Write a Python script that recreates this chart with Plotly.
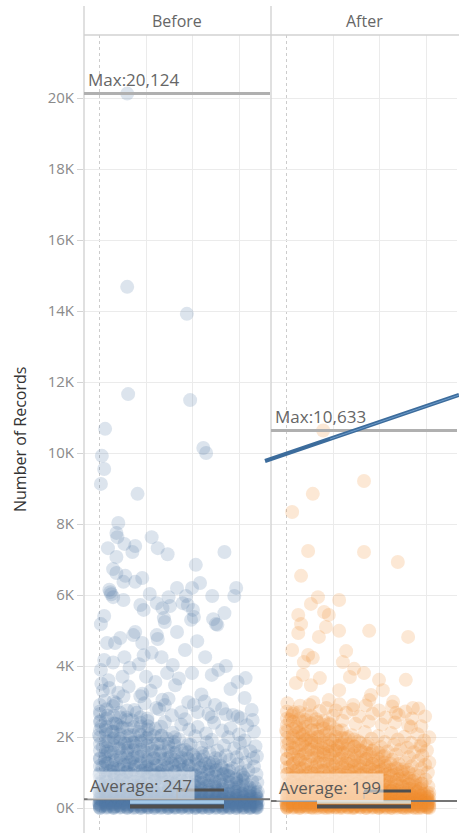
import plotly.graph_objects as go

# ---------------- data ----------------
Y_TICKS = [0, 2000, 4000, 6000, 8000, 10000, 12000, 14000, 16000, 18000, 20000]
Y_TICK_LABELS = ["0K", "2K", "4K", "6K", "8K", "10K", "12K", "14K", "16K", "18K", "20K"]
PANELS = ["Before", "After"]
BEFORE_MAX = 20124
BEFORE_AVG = 247
AFTER_MAX = 10633
AFTER_AVG = 199

# (jitter position, number of records)
before_outliers = [(0.60,20124),(0.60,14680),(1.87,13920),(0.62,11660),(1.94,11490),(0.13,10680),(0.06,9920),
    (2.22,10140),(2.28,10000),(0.11,9550),(0.04,9130),(0.82,8850),(0.41,8030),(0.37,7750),(0.39,7630),(0.54,7440),
    (0.77,7380),(0.19,7320),(0.71,7210),(1.12,7630),(1.25,7320),(1.46,7150),(2.67,7210),(2.06,6850),(0.37,7070),
    (0.30,6730),(0.37,6620),(0.56,6540),(0.52,6370),(0.77,6370),(0.92,6480),(0.24,6080),(0.22,6150),(0.26,6020),
    (0.30,5940),(0.52,5860),(1.08,6030),(1.48,5940),(1.66,6200),(1.85,5970),(1.98,6200),(2.15,6340),(2.41,5970),
    (2.88,5970),(2.92,6200),(0.88,5720),(0.95,5580),(1.23,5770),(1.35,5630),(1.51,5690),(1.78,5770),(1.89,5720),
    (2.00,5580),(2.02,5380),(1.96,5300),(1.38,5350),(2.43,5320),(2.49,5180),(2.67,5490),(0.11,5410),(0.04,5180),
    (0.77,4960),(0.73,4870),(1.23,4870),(1.25,4760),(1.66,4960),(2.09,4700),(0.17,4650),(0.34,4650),(0.45,4790),
    (0.92,4650),(1.40,5240),(2.52,5160),(1.83,4450),(0.54,4250),(0.11,4170),(1.12,4370),(1.33,4250),(2.26,4250),
    (1.57,4030),(0.04,3890),(2.54,3890),(3.12,3660),(2.95,3550),(1.98,3800)]

before_band_a = [(0.05,3500),(0.22,3380),(0.41,3250),(0.63,3420),(0.88,3150),(1.10,3300),(1.35,3050),(1.62,3460),
    (1.90,2980),(2.18,3200),(2.47,2900),(2.80,3350),(3.10,3100),
    (0.12,3020),(0.30,2870),(0.52,3150),(0.75,2760),(0.97,2950),(1.22,2820),(1.48,3080),(1.75,2700),(2.02,2900),
    (2.33,2650),(2.62,2800),(2.95,2580),
    (0.02,2720),(0.18,2600),(0.36,2950),(0.58,2550),(0.80,2680),(1.03,2520),(1.28,2780),(1.55,2610),(1.83,2500),
    (2.10,2700),(2.40,2560),(2.70,2640),(3.02,2530),(3.25,2760),
    (0.08,3300),(0.45,2680),(0.92,3220),(1.40,2900),(2.25,3000),(2.85,2620),
    (0.30,4100),(0.65,3950),(0.85,4050),(1.00,3700),(1.70,3650),(2.40,3750),(0.20,3600),(1.20,3550),(2.70,4000),
    (0.50,3700),(1.45,3800),(0.95,4300),(3.27,2480)]

before_band_b = [(0.03,2450),(0.35,2380),(0.70,2470),(1.05,2300),(1.40,2420),(1.75,2350),(2.10,2280),(2.45,2400),(2.80,2250),(3.15,2330),
    (0.15,2200),(0.50,2260),(0.85,2150),(1.20,2230),(1.57,2120),(1.92,2210),(2.28,2100),(2.62,2180),(2.98,2070),(3.30,2150),
    (0.00,2050),(0.32,1980),(0.66,2060),(1.00,1960),(1.34,2040),(1.70,1940),(2.05,2020),(2.40,1920),(2.75,1990),(3.10,1900),
    (0.20,1880),(0.55,1820),(0.90,1900),(1.25,1800),(1.60,1860),(1.95,1780),(2.30,1850),(2.66,1760),(3.00,1830),(3.33,1740),
    (0.08,1720),(0.42,1680),(0.78,1750),(1.12,1660),(1.48,1720),(1.83,1640),(2.18,1700),(2.52,1620),(2.88,1680),(3.22,1600),
    (0.25,1580),(0.60,1540),(0.95,1600),(1.30,1520),(1.65,1570),(2.00,1500),(2.35,1560),(2.70,1480),(3.05,1540),(3.36,1460),
    (0.12,1450),(0.46,1420),(0.82,1470),(1.16,1400),(1.52,1440),(1.88,1410),(2.22,1460),(2.58,1400),(2.93,1430),(3.28,1400),
    (0.05,2300),(0.28,2150),(0.45,1950),(0.62,1700),(0.18,1600),(0.38,2350),(0.72,1850),(1.08,2080),(1.45,1950),(0.88,2400)]

before_band_c = [(0.02,1380),(0.36,1340),(0.71,1390),(1.04,1320),(1.39,1370),(1.73,1300),(2.08,1360),(2.43,1290),(2.78,1350),(3.12,1280),
    (0.18,1260),(0.53,1220),(0.88,1280),(1.22,1200),(1.56,1250),(1.91,1190),(2.26,1240),(2.60,1180),(2.95,1230),(3.30,1170),
    (0.07,1150),(0.41,1110),(0.76,1160),(1.10,1090),(1.45,1140),(1.80,1080),(2.14,1130),(2.49,1070),(2.84,1120),(3.18,1060),
    (0.24,1040),(0.58,1000),(0.93,1050),(1.27,980),(1.62,1030),(1.97,970),(2.32,1020),(2.66,960),(3.01,1010),(3.35,950),
    (0.01,940),(0.33,900),(0.68,950),(1.02,880),(1.37,930),(1.71,870),(2.06,920),(2.40,860),(2.75,910),(3.09,850),
    (0.15,840),(0.50,800),(0.84,850),(1.19,780),(1.53,830),(1.88,770),(2.23,820),(2.57,760),(2.92,810),(3.26,750),
    (0.05,740),(0.39,700),(0.74,750),(1.08,690),(1.43,730),(1.77,680),(2.12,720),(2.46,670),(2.81,710),(3.15,660),
    (0.21,650),(0.56,610),(0.90,660),(1.25,600),(1.59,640),(1.94,590),(2.29,630),(2.63,580),(2.98,620),(3.32,570),
    (0.10,560),(0.45,530),(0.80,570),(1.14,520),(1.49,550),(1.84,510),(2.18,540),(2.53,505),(2.87,530),(3.21,500),
    (0.28,1200),(0.62,1100),(0.97,980),(1.32,870),(1.66,760),(2.01,650),(2.36,1180),(2.71,1050),(3.06,900),(3.37,720),
    (0.12,1320),(0.30,1010),(0.47,880),(0.65,1290),(0.83,620),(1.00,1150),(1.18,940),(1.35,1060),(1.52,690),(1.70,1240)]

before_band_d = [(0.00,480),(0.29,450),(0.58,470),(0.87,440),(1.16,475),(1.45,445),(1.74,465),(2.03,435),(2.32,470),(2.61,440),(2.90,460),(3.19,430),(3.38,455),
    (0.14,420),(0.43,400),(0.72,425),(1.01,395),(1.30,415),(1.59,390),(1.88,420),(2.17,385),(2.46,410),(2.75,380),(3.04,405),(3.33,375),
    (0.05,370),(0.34,350),(0.63,365),(0.92,340),(1.21,360),(1.50,335),(1.79,355),(2.08,330),(2.37,350),(2.66,325),(2.95,345),(3.24,320),
    (0.19,310),(0.48,295),(0.77,315),(1.06,290),(1.35,305),(1.64,285),(1.93,300),(2.22,280),(2.51,300),(2.80,275),(3.09,295),(3.37,270),
    (0.02,265),(0.31,250),(0.60,260),(0.89,245),(1.18,255),(1.47,240),(1.76,250),(2.05,235),(2.34,248),(2.63,232),(2.92,245),(3.21,228),
    (0.16,220),(0.45,205),(0.74,215),(1.03,200),(1.32,212),(1.61,198),(1.90,210),(2.19,195),(2.48,208),(2.77,192),(3.06,205),(3.35,190),
    (0.08,185),(0.37,170),(0.66,180),(0.95,165),(1.24,178),(1.53,162),(1.82,175),(2.11,160),(2.40,172),(2.69,158),(2.98,170),(3.27,155),
    (0.22,150),(0.51,138),(0.80,145),(1.09,132),(1.38,142),(1.67,130),(1.96,140),(2.25,128),(2.54,138),(2.83,125),(3.12,135),(3.38,122),
    (0.00,120),(0.29,108),(0.58,115),(0.87,102),(1.16,112),(1.45,100),(1.74,110),(2.03,98),(2.32,108),(2.61,95),(2.90,105),(3.19,92),
    (0.14,90),(0.43,78),(0.72,85),(1.01,72),(1.30,82),(1.59,70),(1.88,80),(2.17,68),(2.46,78),(2.75,65),(3.04,75),(3.33,62),
    (0.05,60),(0.34,50),(0.63,56),(0.92,45),(1.21,52),(1.50,42),(1.79,50),(2.08,40),(2.37,48),(2.66,38),(2.95,45),(3.24,35),
    (0.19,32),(0.48,25),(0.77,30),(1.06,20),(1.35,28),(1.64,18),(1.93,26),(2.22,15),(2.51,24),(2.80,12),(3.09,22),(3.37,10),
    (0.02,8),(0.31,5),(0.60,6),(0.89,3),(1.18,5),(1.47,2),(1.76,4),(2.05,1),(2.34,3),(2.63,1),(2.92,2),(3.21,1)]

# dense low-count records, grouped by jitter column
before_col_x = [0.02,0.16,0.31,0.45,0.60,0.74,0.89,1.03,1.18,1.32,1.47,1.61,1.76,1.90,2.05,2.19,2.34,2.48,2.63,2.77,2.92,3.06,3.21,3.35]
before_col_y = [
    [2,25,60,95,140,190,250,310,380,460,560,680,820,990,1180,1400,1620,1800,1990,2200,2420,2650,2900],
    [8,35,70,110,150,205,265,330,410,500,610,740,880,1050,1260,1520,1700,1880,2080,2290,2520,2780],
    [3,30,55,100,145,195,240,300,370,450,540,650,790,950,1130,1350,1560,1760,1950,2150,2380,2600,3000],
    [10,40,80,120,165,215,280,350,430,520,630,760,910,1080,1290,1480,1680,1870,2070,2300,2550],
    [5,28,65,105,150,200,255,320,395,480,585,705,850,1020,1220,1420,1610,1810,2020,2240,2480,2750],
    [1,33,75,115,160,210,270,340,420,510,620,750,900,1070,1260,1440,1630,1830,2050,2280],
    [6,38,68,108,155,200,260,325,400,490,595,720,870,1040,1250,1450,1640,1850,2060,2300,2560],
    [4,26,62,98,142,192,248,312,385,470,570,690,830,1000,1180,1370,1560,1760,1980,2210,2450],
    [9,42,78,118,162,212,272,342,422,512,622,752,902,1060,1230,1410,1600,1800,2020],
    [2,30,66,104,148,198,256,322,398,486,590,715,860,1030,1210,1400,1600,1810,2040,2290],
    [7,36,72,112,156,206,266,336,416,506,616,746,900,1060,1230,1410,1600,1810],
    [3,27,63,101,145,195,252,318,392,478,580,700,845,1010,1180,1360,1550,1760,1990],
    [10,44,80,120,164,214,274,344,424,514,624,760,910,1070,1240,1420,1620],
    [1,31,67,105,149,199,257,323,399,487,592,718,870,1030,1200,1380,1570,1790],
    [6,37,73,113,157,207,267,337,417,507,617,750,900,1060,1230,1420],
    [4,29,64,102,146,196,254,320,395,482,585,705,850,1000,1170,1350,1550],
    [8,41,77,117,161,211,271,341,421,511,640,780,930,1090,1270],
    [2,32,68,106,150,200,258,324,400,488,595,730,880,1040,1220,1410],
    [5,39,75,115,159,209,269,339,419,530,660,800,950,1120],
    [3,28,64,102,146,196,254,320,395,480,600,740,890,1060],
    [9,43,79,119,163,213,273,343,450,570,700,850],
    [1,30,66,104,148,198,256,322,398,510,640,780,940],
    [6,36,72,112,156,206,266,350,450,570],
    [4,26,62,100,144,194,252,330,420]]

after_outliers = [(0.79,10633),(1.66,9210),(0.57,8850),(0.13,8340),(0.47,7240),(1.66,7210),(2.38,6930),(0.32,6540),
    (0.68,5940),(0.53,5750),(1.13,5860),(0.26,5440),(0.32,5180),(0.81,5520),(0.91,5440),(0.85,5100),(0.26,4930),
    (1.13,4990),(1.77,4990),(2.60,4820),(0.70,4820),(0.13,4450),(1.28,4420),(0.47,4310),(0.57,4230),(0.38,4110),
    (1.21,4110),(1.45,3920),(0.36,3750),(1.66,3800),(0.72,3660),(1.36,3690),(2.55,3610),(1.98,3610),(0.21,3520),
    (0.53,3460),(1.13,3320),(2.06,3320),(1.81,3180),(1.77,3040),(0.91,3040),(2.28,2990),(2.70,2820),(1.43,2900),
    (2.34,2680),(2.66,2280),(2.87,1720)]

after_band_a = [(0.03,2950),(0.30,2880),(0.58,2980),(0.86,2820),(1.14,2920),(1.42,2780),(1.70,2890),(1.98,2750),(2.26,2860),(2.54,2720),(2.82,2800),
    (0.16,2700),(0.44,2640),(0.72,2730),(1.00,2600),(1.28,2680),(1.56,2580),(1.84,2660),(2.12,2550),(2.40,2620),(2.68,2520),(2.96,2580),
    (0.08,2480),(0.36,2420),(0.64,2500),(0.92,2390),(1.20,2460),(1.48,2370),(1.76,2440),(2.04,2350),(2.32,2410),(2.60,2330),(2.88,2300),
    (0.22,2280),(0.50,2900),(0.78,2350),(1.06,2750),(0.12,2600)]

after_band_b = [(0.00,2180),(0.28,2120),(0.56,2200),(0.84,2080),(1.12,2160),(1.40,2050),(1.68,2140),(1.96,2030),(2.24,2110),(2.52,2010),(2.80,2080),(3.05,1990),
    (0.14,1980),(0.42,1930),(0.70,2000),(0.98,1900),(1.26,1960),(1.54,1880),(1.82,1950),(2.10,1860),(2.38,1930),(2.66,1840),(2.94,1900),
    (0.06,1820),(0.34,1780),(0.62,1840),(0.90,1750),(1.18,1810),(1.46,1730),(1.74,1800),(2.02,1720),(2.30,1780),(2.58,1700),(2.86,1760),
    (0.20,1680),(0.48,1640),(0.76,1700),(1.04,1620),(1.32,1670),(1.60,1600),(1.88,1660),(2.16,1590),(2.44,1650),(2.72,1570),(3.00,1620),
    (0.10,1550),(0.38,1510),(0.66,1560),(0.94,1490),(1.22,1540),(1.50,1470),(1.78,1530),(2.06,1460),(2.34,1510),(2.62,1440),(2.90,1480),
    (0.26,1430),(0.54,1900),(0.80,1560),(1.10,1750),(0.36,2050)]

after_band_c = [(0.02,1390),(0.30,1350),(0.58,1400),(0.86,1330),(1.14,1380),(1.42,1310),(1.70,1370),(1.98,1300),(2.26,1360),(2.54,1290),(2.82,1340),(3.05,1280),
    (0.16,1270),(0.44,1230),(0.72,1280),(1.00,1210),(1.28,1260),(1.56,1200),(1.84,1250),(2.12,1190),(2.40,1240),(2.68,1180),(2.96,1220),
    (0.08,1160),(0.36,1120),(0.64,1170),(0.92,1100),(1.20,1150),(1.48,1090),(1.76,1140),(2.04,1080),(2.32,1130),(2.60,1070),(2.88,1110),
    (0.22,1050),(0.50,1010),(0.78,1060),(1.06,990),(1.34,1040),(1.62,980),(1.90,1030),(2.18,970),(2.46,1020),(2.74,960),(3.02,1000),
    (0.03,950),(0.31,910),(0.59,960),(0.87,890),(1.15,940),(1.43,880),(1.71,930),(1.99,870),(2.27,920),(2.55,860),(2.83,900),
    (0.17,850),(0.45,810),(0.73,860),(1.01,790),(1.29,840),(1.57,780),(1.85,830),(2.13,770),(2.41,820),(2.69,760),(2.97,800),
    (0.09,750),(0.37,710),(0.65,760),(0.93,690),(1.21,740),(1.49,680),(1.77,730),(2.05,670),(2.33,720),(2.61,660),(2.89,700),
    (0.23,650),(0.51,610),(0.79,660),(1.07,600),(1.35,640),(1.63,590),(1.91,630),(2.19,580),(2.47,620),(2.75,570),(3.03,610),
    (0.04,560),(0.32,530),(0.60,570),(0.88,520),(1.16,550),(1.44,510),(1.72,540),(2.00,505),(2.28,535),(2.56,500),(2.84,525)]

after_band_d = [(0.00,480),(0.28,450),(0.56,470),(0.84,440),(1.12,475),(1.40,445),(1.68,465),(1.96,435),(2.24,470),(2.52,440),(2.80,460),(3.05,430),
    (0.14,420),(0.42,400),(0.70,425),(0.98,395),(1.26,415),(1.54,390),(1.82,420),(2.10,385),(2.38,410),(2.66,380),(2.94,405),
    (0.05,370),(0.33,350),(0.61,365),(0.89,340),(1.17,360),(1.45,335),(1.73,355),(2.01,330),(2.29,350),(2.57,325),(2.85,345),(3.05,320),
    (0.19,310),(0.47,295),(0.75,315),(1.03,290),(1.31,305),(1.59,285),(1.87,300),(2.15,280),(2.43,300),(2.71,275),(2.99,295),
    (0.02,265),(0.30,250),(0.58,260),(0.86,245),(1.14,255),(1.42,240),(1.70,250),(1.98,235),(2.26,248),(2.54,232),(2.82,245),(3.04,228),
    (0.16,220),(0.44,205),(0.72,215),(1.00,200),(1.28,212),(1.56,198),(1.84,210),(2.12,195),(2.40,208),(2.68,192),(2.96,205),
    (0.08,185),(0.36,170),(0.64,180),(0.92,165),(1.20,178),(1.48,162),(1.76,175),(2.04,160),(2.32,172),(2.60,158),(2.88,170),(3.05,155),
    (0.22,150),(0.50,138),(0.78,145),(1.06,132),(1.34,142),(1.62,130),(1.90,140),(2.18,128),(2.46,138),(2.74,125),(3.02,135),
    (0.00,120),(0.28,108),(0.56,115),(0.84,102),(1.12,112),(1.40,100),(1.68,110),(1.96,98),(2.24,108),(2.52,95),(2.80,105),(3.05,92),
    (0.14,90),(0.42,78),(0.70,85),(0.98,72),(1.26,82),(1.54,70),(1.82,80),(2.10,68),(2.38,78),(2.66,65),(2.94,75),
    (0.05,60),(0.33,50),(0.61,56),(0.89,45),(1.17,52),(1.45,42),(1.73,50),(2.01,40),(2.29,48),(2.57,38),(2.85,45),(3.05,35),
    (0.19,32),(0.47,25),(0.75,30),(1.03,20),(1.31,28),(1.59,18),(1.87,26),(2.15,15),(2.43,24),(2.71,12),(2.99,22),
    (0.02,8),(0.30,5),(0.58,6),(0.86,3),(1.14,5),(1.42,2),(1.70,4),(1.98,1),(2.26,3),(2.54,1),(2.82,2),(3.05,1)]

after_col_x = [0.02,0.15,0.28,0.41,0.54,0.67,0.80,0.93,1.06,1.19,1.32,1.45,1.58,1.71,1.84,1.97,2.10,2.23,2.36,2.49,2.62,2.75,2.88,3.01]
after_col_y = [
    [4,28,58,92,135,185,240,300,370,450,545,660,800,960,1150,1380,1620,1800,1970,2150,2330,2520,2720],
    [9,36,72,108,152,202,262,328,405,495,605,735,875,1045,1250,1500,1680,1860,2040,2230,2430,2650],
    [2,31,57,98,143,193,245,305,375,455,548,660,795,955,1140,1360,1600,1780,1960,2140,2320,2510,2700],
    [11,41,82,122,167,217,282,352,432,522,632,762,912,1085,1295,1540,1720,1900,2090,2280,2480],
    [6,29,66,106,151,201,256,321,396,481,586,706,852,1022,1225,1460,1640,1820,2000,2190,2390,2600],
    [2,34,76,116,161,211,271,341,421,511,621,751,901,1072,1280,1460,1640,1820,2010,2210,2420],
    [7,39,69,109,156,201,261,326,401,491,596,721,871,1042,1252,1490,1670,1850,2040,2240,2450],
    [5,27,63,99,143,193,249,313,386,471,571,691,831,1002,1210,1390,1570,1750,1940,2140,2350],
    [10,43,79,119,163,213,273,343,423,513,623,753,903,1080,1260,1440,1620,1810,2010,2220],
    [3,31,67,105,149,199,257,323,399,487,591,716,861,1031,1230,1410,1590,1780,1980,2190],
    [8,37,73,113,157,207,267,337,417,507,617,747,900,1070,1240,1420,1600,1790,1990],
    [4,28,64,102,146,196,253,319,393,479,581,701,846,1010,1180,1360,1540,1730,1930],
    [11,45,81,121,165,215,275,345,425,515,625,760,920,1090,1260,1440,1630,1830],
    [2,32,68,106,150,200,258,324,400,488,593,719,865,1030,1200,1380,1560,1750],
    [7,38,74,114,158,208,268,338,418,508,618,740,900,1070,1240,1420,1610],
    [5,30,65,103,147,197,255,321,396,483,586,706,860,1020,1190,1370,1560],
    [9,42,78,118,162,212,272,342,422,512,620,770,930,1100,1280,1470],
    [3,33,69,107,151,201,259,325,401,489,596,740,900,1070,1250],
    [6,40,76,116,160,210,270,340,420,505,640,790,950,1120],
    [4,29,65,103,147,197,255,321,396,481,610,760,920,1090],
    [10,44,80,120,164,214,274,344,420,540,680,830,990],
    [2,31,67,105,149,199,257,323,399,510,640,780],
    [7,37,73,113,157,207,267,330,430,550,680],
    [5,27,63,101,145,195,253,330,420]]

# ---------------- layout helpers ----------------
W, H = 459, 833
def px(x):
    return x / W
def py(y):
    return (H - y) / H

X_RANGE = [-0.32, 3.64]
Y_RANGE = [-704, 21775]
FONT = "Open Sans"
BLUE = "#4e79a7"
ORANGE = "#f28e2b"

def column_points(xs, ys):
    return [(x, v) for x, col in zip(xs, ys) for v in col]

before_pts = (column_points(before_col_x, before_col_y) + before_band_d + before_band_c
              + before_band_b + before_band_a + before_outliers)
after_pts = (column_points(after_col_x, after_col_y) + after_band_d + after_band_c
             + after_band_b + after_band_a + after_outliers)

fig = go.Figure()
fig.add_trace(go.Scatter(
    x=[p[0] for p in before_pts], y=[p[1] for p in before_pts],
    mode="markers", xaxis="x", yaxis="y", name=PANELS[0],
    marker=dict(size=14, color=BLUE, opacity=0.2, line=dict(width=0)),
    hoverinfo="skip", showlegend=False))
fig.add_trace(go.Scatter(
    x=[p[0] for p in after_pts], y=[p[1] for p in after_pts],
    mode="markers", xaxis="x2", yaxis="y2", name=PANELS[1],
    marker=dict(size=14, color=ORANGE, opacity=0.2, line=dict(width=0)),
    hoverinfo="skip", showlegend=False))

xax = dict(range=X_RANGE, showticklabels=False, ticks="", tickvals=[1, 2, 3],
           showgrid=True, gridcolor="#ebebeb", gridwidth=1, zeroline=False,
           showline=False, fixedrange=True,
           minor=dict(tickvals=[0], showgrid=True, griddash="dot", gridcolor="#cccccc", gridwidth=1))
yax = dict(range=Y_RANGE, domain=[0, py(35)], tickvals=Y_TICKS, ticktext=Y_TICK_LABELS,
           showgrid=True, gridcolor="#ebebeb", gridwidth=1, zeroline=False, showline=False,
           fixedrange=True)

fig.update_layout(
    width=W, height=H, margin=dict(l=0, r=0, t=0, b=0),
    paper_bgcolor="white", plot_bgcolor="white",
    font=dict(family=FONT),
    xaxis=dict(xax, domain=[px(84), px(270)], anchor="y"),
    xaxis2=dict(xax, domain=[px(271), px(457)], anchor="y2"),
    yaxis=dict(yax, anchor="x", ticks="outside", ticklen=6, tickcolor="#d4d4d4",
               tickfont=dict(size=15, color="#8a8a8a", family=FONT), automargin=False),
    yaxis2=dict(yax, anchor="x2", matches="y", showticklabels=False, ticks=""),
)

shapes = []
# panel frames and header separator
for xp in (84, 271):
    shapes.append(dict(type="line", xref="paper", yref="paper", x0=px(xp), x1=px(xp),
                       y0=py(6), y1=0, line=dict(color="#cfcfcf", width=1.3)))
shapes.append(dict(type="line", xref="paper", yref="paper", x0=px(84), x1=1,
                   y0=py(35), y1=py(35), line=dict(color="#d2d2d2", width=1.3)))

# reference lines
for xr, yr, mx, av in (("x", "y", BEFORE_MAX, BEFORE_AVG), ("x2", "y2", AFTER_MAX, AFTER_AVG)):
    shapes.append(dict(type="line", xref=xr, yref=yr, x0=X_RANGE[0], x1=X_RANGE[1], y0=mx, y1=mx,
                       line=dict(color="#b0b0b0", width=3)))
    shapes.append(dict(type="line", xref=xr, yref=yr, x0=X_RANGE[0], x1=X_RANGE[1], y0=av, y1=av,
                       line=dict(color="#757575", width=2)))

# small summary bars at the bottom
for xr, yr, light, yshort in (("x", "y", "#a3c9e8", 507), ("x2", "y2", "#d4d3c6", 479)):
    shapes.append(dict(type="line", xref=xr, yref=yr, x0=0.66, x1=2.66, y0=169, y1=169,
                       line=dict(color=light, width=3.5)))
    shapes.append(dict(type="line", xref=xr, yref=yr, x0=0.66, x1=2.66, y0=40, y1=40,
                       line=dict(color="#4f4f4f", width=4)))
    shapes.append(dict(type="line", xref=xr, yref=yr, x0=1.66, x1=2.66, y0=yshort, y1=yshort,
                       line=dict(color="#4f4f4f", width=3)))
    shapes.append(dict(type="line", xref=xr, yref=yr, x0=1.66, x1=1.66, y0=yshort, y1=260,
                       line=dict(color="#6a6a6a", width=1)))

# drawn callout stroke
shapes.append(dict(type="line", xref="paper", yref="paper", x0=px(265), y0=py(461), x1=1.0, y1=py(395),
                   line=dict(color="#3c6c9c", width=4)))
shapes.append(dict(type="line", xref="paper", yref="paper", x0=px(330), y0=py(439), x1=1.0, y1=py(395),
                   line=dict(color="#6d9bc9", width=1)))
fig.update_layout(shapes=shapes)

ann = []
ann.append(dict(text=PANELS[0], x=px(177), y=py(21), xref="paper", yref="paper", showarrow=False,
                font=dict(size=16, color="#666666"), xanchor="center", yanchor="middle"))
ann.append(dict(text=PANELS[1], x=px(364), y=py(21), xref="paper", yref="paper", showarrow=False,
                font=dict(size=16, color="#666666"), xanchor="center", yanchor="middle"))
ann.append(dict(text="Number of Records", x=px(20), y=py(440), xref="paper", yref="paper",
                showarrow=False, textangle=-90, font=dict(size=16, color="#333333"),
                xanchor="center", yanchor="middle"))
ann.append(dict(text="Max:{:,}".format(BEFORE_MAX), x=px(86), y=py(80), xref="paper", yref="paper",
                showarrow=False, font=dict(size=17, color="#666666"), xanchor="left", yanchor="middle"))
ann.append(dict(text="Max:{:,}".format(AFTER_MAX), x=px(273), y=py(416), xref="paper", yref="paper",
                showarrow=False, font=dict(size=17, color="#666666"), xanchor="left", yanchor="middle"))
ann.append(dict(text="Average: {}".format(BEFORE_AVG), x=px(87), y=py(785), xref="paper", yref="paper",
                showarrow=False, font=dict(size=17, color="#5a5a5a"), xanchor="left", yanchor="middle",
                bgcolor="rgba(255,255,255,0.55)", borderpad=2))
ann.append(dict(text="Average: {}".format(AFTER_AVG), x=px(276), y=py(787), xref="paper", yref="paper",
                showarrow=False, font=dict(size=17, color="#5a5a5a"), xanchor="left", yanchor="middle",
                bgcolor="rgba(255,255,255,0.55)", borderpad=2))
fig.update_layout(annotations=ann)

fig.write_html("out.html", config={"displayModeBar": False},
               post_script="document.body.style.margin='0';document.body.style.overflow='hidden';")
